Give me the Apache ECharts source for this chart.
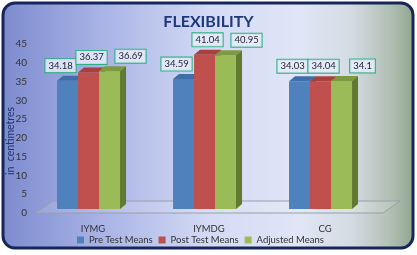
<!DOCTYPE html>
<html>
<head>
<meta charset="utf-8">
<script src="https://cdn.jsdelivr.net/npm/echarts@6/dist/echarts.min.js"></script>
<style>
  html, body { margin: 0; padding: 0; background: #fff; }
  #chart { width: 417px; height: 255px; }
</style>
</head>
<body>
<div id="chart"></div>
<script>
const categories = ["IYMG", "IYMDG", "CG"];
const seriesNames = ["Pre Test Means", "Post Test Means", "Adjusted Means"];
const preTest = [34.18, 34.59, 34.03];
const postTest = [36.37, 41.04, 34.04];
const adjusted = [36.69, 40.95, 34.1];
const yMin = 0;
const yMax = 45;
const yStep = 5;
const yTitle = "in  centimetres";

const values = [preTest, postTest, adjusted];
const faces = [
  { front: "#4f81bd", top: "#3f6ea8", side: "#365f94" },
  { front: "#c0504d", top: "#a8403d", side: "#8f3734" },
  { front: "#9bbb59", top: "#7d9a42", side: "#627a30" },
];
// how far each series' value box sits from its bar, as in the original
const labelShift = [-7, 3, 21];
const FONT = "Lato, 'Open Sans', sans-serif";

function bar3d(s) {
  return function (params, api) {
    const idx = api.value(0);
    const v = api.value(1);
    const band = api.size([1, 0])[0];
    const base = api.coord([idx, 0]);
    const top = api.coord([idx, v]);
    const w = band * 0.181;
    const x0 = base[0] - band * 0.31 + s * w;
    const y0 = base[1] - 4;
    const yT = top[1] - 4;
    const dx = 6, dy = 5;
    const c = faces[s];
    return {
      type: "group",
      children: [
        {
          type: "rect",
          shape: { x: x0, y: yT, width: w, height: y0 - yT },
          style: { fill: c.front },
        },
        {
          type: "polygon",
          shape: { points: [[x0, yT], [x0 + w, yT], [x0 + w + dx, yT - dy], [x0 + dx, yT - dy]] },
          style: { fill: c.top },
        },
        {
          type: "polygon",
          shape: { points: [[x0 + w, yT], [x0 + w + dx, yT - dy], [x0 + w + dx, y0 - dy], [x0 + w, y0]] },
          style: { fill: c.side },
        },
        {
          type: "text",
          z2: 100,
          x: x0 + w / 2 + labelShift[s],
          y: yT - 15,
          style: {
            text: String(v),
            align: "center",
            verticalAlign: "middle",
            font: "9.5px " + FONT,
            fill: "#1e1e2e",
            backgroundColor: "rgba(232,236,250,0.85)",
            borderColor: "#2eae86",
            borderWidth: 1,
            padding: [2, 3, 1, 3],
          },
        },
      ],
    };
  };
}

function floor(params, api) {
  const cs = params.coordSys;
  const yb = cs.y + cs.height;
  return {
    type: "polygon",
    shape: {
      points: [[cs.x, yb], [cs.x + cs.width, yb], [cs.x + cs.width + 17, yb - 12], [cs.x + 18, yb - 12]],
    },
    style: { fill: "rgba(255,255,255,0.12)", stroke: "#9a9eaa", lineWidth: 1 },
  };
}

const myChart = echarts.init(document.getElementById("chart"));

const series = [
  {
    type: "custom",
    silent: true,
    renderItem: floor,
    data: [[0, 0]],
    z: 1,
  },
];
seriesNames.forEach((name, s) => {
  series.push({
    name: name,
    type: "custom",
    renderItem: bar3d(s),
    itemStyle: { color: faces[s].front },
    encode: { x: 0, y: 1 },
    data: categories.map((c, i) => [i, values[s][i]]),
    z: 2,
  });
});

const option = {
  animation: false,
  textStyle: { fontFamily: FONT },
  graphic: [
    {
      type: "rect",
      z: -10,
      shape: { x: 3, y: 3, width: 410, height: 245, r: 12 },
      style: {
        fill: new echarts.graphic.LinearGradient(0, 0, 1, 0, [
          { offset: 0, color: "#7c8bcf" },
          { offset: 0.25, color: "#aab4e6" },
          { offset: 0.5, color: "#d3daf4" },
          { offset: 0.72, color: "#e0e6f6" },
          { offset: 0.85, color: "#d3dbe2" },
          { offset: 0.94, color: "#b2c0b4" },
          { offset: 1, color: "#8fa48e" },
        ]),
        stroke: "#16265a",
        lineWidth: 3,
      },
    },
    {
      type: "text",
      x: 11,
      y: 141,
      rotation: Math.PI / 2,
      style: {
        text: yTitle,
        align: "center",
        verticalAlign: "middle",
        font: "10.5px " + FONT,
        fill: "#22336a",
      },
    },
  ],
  title: {
    text: "FLEXIBILITY",
    left: "center",
    top: 9,
    textStyle: { fontSize: 16, fontWeight: "bold", color: "#1f3878", fontFamily: FONT },
  },
  legend: {
    data: seriesNames,
    left: 72,
    top: 230,
    itemWidth: 7,
    itemHeight: 7,
    itemGap: 6,
    icon: "rect",
    textStyle: { fontSize: 9.5, color: "#333" },
  },
  grid: { left: 35, right: 34, top: 44, bottom: 42, outerBoundsMode: "none" },
  xAxis: {
    type: "category",
    data: categories,
    axisLine: { show: false },
    axisTick: { show: false },
    axisLabel: { margin: 11, fontSize: 9.5, color: "#333" },
  },
  yAxis: {
    type: "value",
    min: yMin,
    max: yMax,
    interval: yStep,
    splitLine: { show: false },
    axisLine: { show: false },
    axisTick: { show: false },
    axisLabel: { margin: 8, fontSize: 10, color: "#333" },
  },
  series: series,
};
myChart.setOption(option);
</script>
</body>
</html>
